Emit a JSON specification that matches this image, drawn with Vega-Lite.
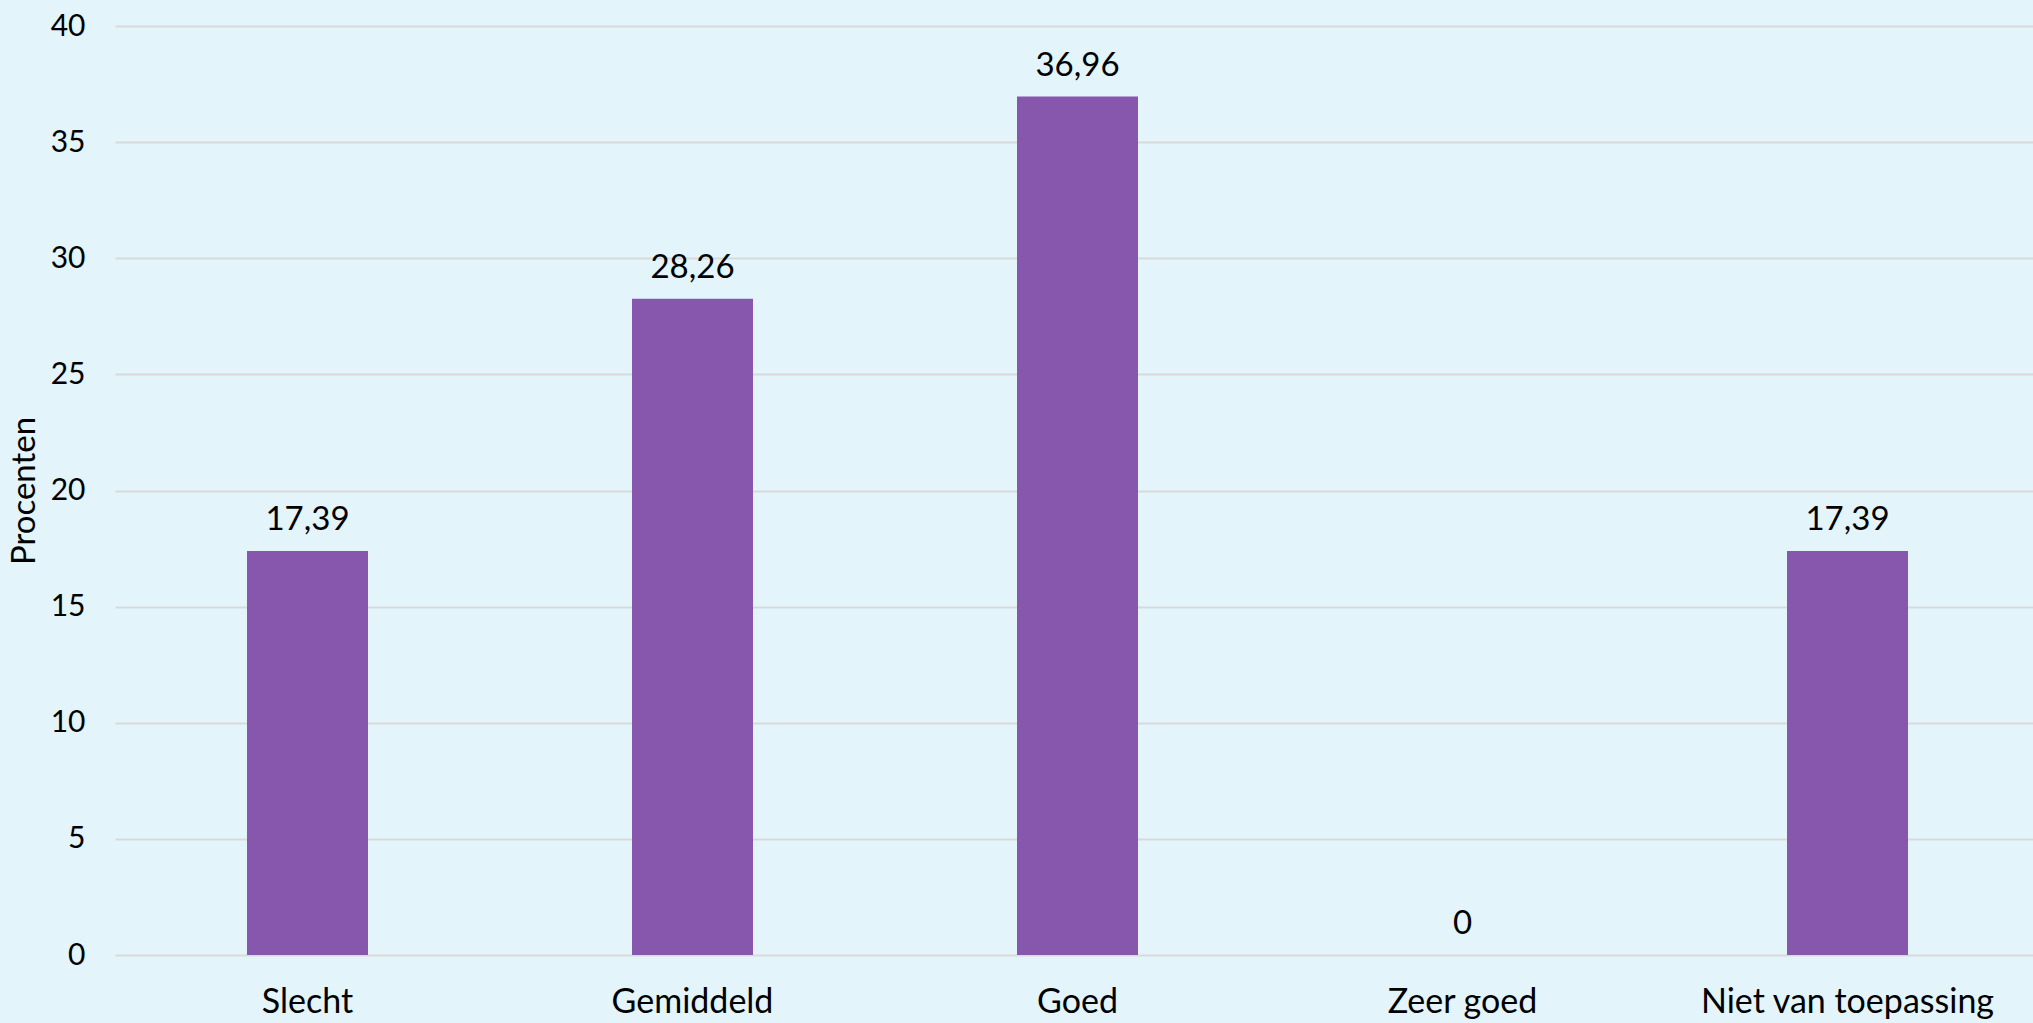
{
  "$schema": "https://vega.github.io/schema/vega-lite/v6.json",
  "width": 1918,
  "height": 929,
  "autosize": {"type": "none"},
  "padding": {"left": 115, "top": 26, "right": 0, "bottom": 68},
  "background": "#E3F4FB",
  "config": {
    "view": {"stroke": null},
    "font": "Lato",
    "locale": {"number": {"decimal": ",", "thousands": ".", "grouping": [3], "currency": ["€", ""]}}
  },
  "data": {
    "values": [
      {"categorie": "Slecht", "procent": 17.39},
      {"categorie": "Gemiddeld", "procent": 28.26},
      {"categorie": "Goed", "procent": 36.96},
      {"categorie": "Zeer goed", "procent": 0},
      {"categorie": "Niet van toepassing", "procent": 17.39}
    ]
  },
  "encoding": {
    "x": {
      "field": "categorie",
      "type": "nominal",
      "sort": null,
      "scale": {"paddingInner": 0, "paddingOuter": 0, "range": [0, 1925]},
      "axis": {
        "title": null,
        "labelAngle": 0,
        "labelFontSize": 34,
        "labelLimit": 0,
        "labelColor": "#000000",
        "labelPadding": 30,
        "ticks": false,
        "domain": false
      }
    },
    "y": {
      "field": "procent",
      "type": "quantitative",
      "scale": {"domain": [0, 40], "nice": false},
      "axis": {
        "title": "Procenten",
        "titleFontSize": 33,
        "titleFontWeight": "normal",
        "titleColor": "#000000",
        "titlePadding": 9,
        "values": [0, 5, 10, 15, 20, 25, 30, 35, 40],
        "labelFontSize": 30,
        "labelColor": "#000000",
        "labelPadding": 30,
        "ticks": false,
        "domain": false,
        "gridColor": "#D9D9D9",
        "gridWidth": 2
      }
    }
  },
  "layer": [
    {
      "mark": {"type": "bar", "size": 121, "color": "#8757AE"}
    },
    {
      "mark": {"type": "text", "baseline": "alphabetic", "dy": -21, "fontSize": 33, "color": "#000000"},
      "encoding": {
        "text": {"field": "procent", "type": "quantitative", "format": ".2~f"}
      }
    }
  ]
}
